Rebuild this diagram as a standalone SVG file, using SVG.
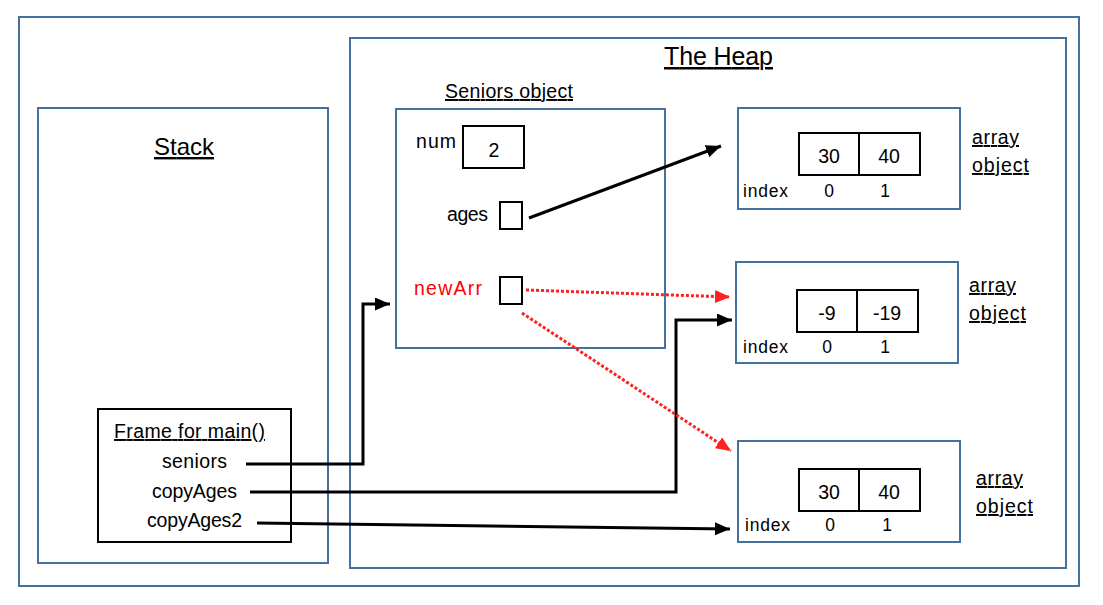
<svg xmlns="http://www.w3.org/2000/svg" width="1103" height="605" viewBox="0 0 1103 605">
<defs>
<style>
.frame{fill:none;stroke:#44729D;stroke-width:2}
.box{fill:none;stroke:#000;stroke-width:2}
text{font-family:"Liberation Sans",Arial,sans-serif;fill:#000}
.t18{font-size:19.5px}
.ix{font-size:17.5px}
.u{text-decoration:underline}
.red{fill:#FF0000}
.conn{fill:none;stroke:#000;stroke-width:3}
.dot{fill:none;stroke:#FF2020;stroke-width:3;stroke-dasharray:3 2}
</style>
<marker id="ab" markerUnits="userSpaceOnUse" markerWidth="18" markerHeight="14" refX="15" refY="6.5" orient="auto"><path d="M0,0 L15,6.5 L0,13 Z" fill="#000"/></marker>
<marker id="ar" markerUnits="userSpaceOnUse" markerWidth="18" markerHeight="14" refX="15" refY="6.5" orient="auto"><path d="M0,0 L15,6.5 L0,13 Z" fill="#FF2020"/></marker>
</defs>
<rect width="1103" height="605" fill="#fff"/>
<rect class="frame" x="19" y="17" width="1060" height="569"/>
<g id="heap">
<rect class="frame" x="350" y="38" width="716" height="530"/>
<text x="664" y="65" font-size="25" class="u" textLength="109">The Heap</text>
</g>
<g id="stack">
<rect class="frame" x="38" y="108" width="290" height="455"/>
<text x="154" y="155" font-size="24" class="u" textLength="60">Stack</text>
</g>
<g id="seniors">
<text x="445" y="98" class="t18 u" textLength="128">Seniors object</text>
<rect class="frame" x="396" y="109" width="269" height="239"/>
<text x="416" y="148" class="t18" textLength="40">num</text>
<rect class="box" x="463" y="126" width="61" height="42"/>
<text x="494" y="157" class="t18" text-anchor="middle">2</text>
<text x="447" y="221" class="t18" textLength="41">ages</text>
<rect class="box" x="500" y="202" width="22" height="27"/>
<text x="414" y="295" class="t18 red" textLength="68">newArr</text>
<rect class="box" x="500" y="277" width="22" height="27"/>
</g>
<g id="array1">
<rect class="frame" x="738" y="108" width="222" height="101"/>
<rect class="box" x="799" y="133" width="60" height="42"/>
<rect class="box" x="859" y="133" width="61" height="42"/>
<text x="829" y="163" class="t18" text-anchor="middle">30</text>
<text x="889" y="163" class="t18" text-anchor="middle">40</text>
<text x="743" y="197" class="ix" textLength="45">index</text>
<text x="829" y="197" class="ix" text-anchor="middle">0</text>
<text x="885" y="197" class="ix" text-anchor="middle">1</text>
<text x="972" y="144" class="t18 u" textLength="47">array</text>
<text x="972" y="172" class="t18 u" textLength="57">object</text>
</g>
<g id="array2">
<rect class="frame" x="736" y="262" width="222" height="101"/>
<rect class="box" x="797" y="290" width="60" height="42"/>
<rect class="box" x="857" y="290" width="61" height="42"/>
<text x="827" y="320" class="t18" text-anchor="middle">-9</text>
<text x="887" y="320" class="t18" text-anchor="middle">-19</text>
<text x="743" y="353" class="ix" textLength="45">index</text>
<text x="827" y="353" class="ix" text-anchor="middle">0</text>
<text x="885" y="353" class="ix" text-anchor="middle">1</text>
<text x="969" y="292" class="t18 u" textLength="47">array</text>
<text x="969" y="320" class="t18 u" textLength="57">object</text>
</g>
<g id="array3">
<rect class="frame" x="738" y="441" width="222" height="101"/>
<rect class="box" x="799" y="469" width="60" height="42"/>
<rect class="box" x="859" y="469" width="61" height="42"/>
<text x="829" y="499" class="t18" text-anchor="middle">30</text>
<text x="889" y="499" class="t18" text-anchor="middle">40</text>
<text x="745" y="531" class="ix" textLength="45">index</text>
<text x="830" y="531" class="ix" text-anchor="middle">0</text>
<text x="887" y="531" class="ix" text-anchor="middle">1</text>
<text x="976" y="485" class="t18 u" textLength="47">array</text>
<text x="976" y="513" class="t18 u" textLength="57">object</text>
</g>
<g id="mainframe">
<rect class="box" x="98" y="409" width="193" height="133"/>
<text x="114" y="438" class="t18 u" textLength="151">Frame for main()</text>
<text x="162" y="468" class="t18" textLength="65">seniors</text>
<text x="152" y="498" class="t18" textLength="85">copyAges</text>
<text x="147" y="527" class="t18" textLength="95">copyAges2</text>
</g>
<g id="connectors">
<path class="conn" d="M529,218 L721,146" marker-end="url(#ab)"/>
<path class="conn" d="M246,464 L363,464 L363,304 L390,304" marker-end="url(#ab)"/>
<path class="conn" d="M250,492 L676,492 L676,320 L732,320" marker-end="url(#ab)"/>
<path class="conn" d="M257,523 L730,529" marker-end="url(#ab)"/>
<path class="dot" d="M526,290 L730,297" marker-end="url(#ar)"/>
<path class="dot" d="M522,313 L731,451" marker-end="url(#ar)"/>
</g>
</svg>
